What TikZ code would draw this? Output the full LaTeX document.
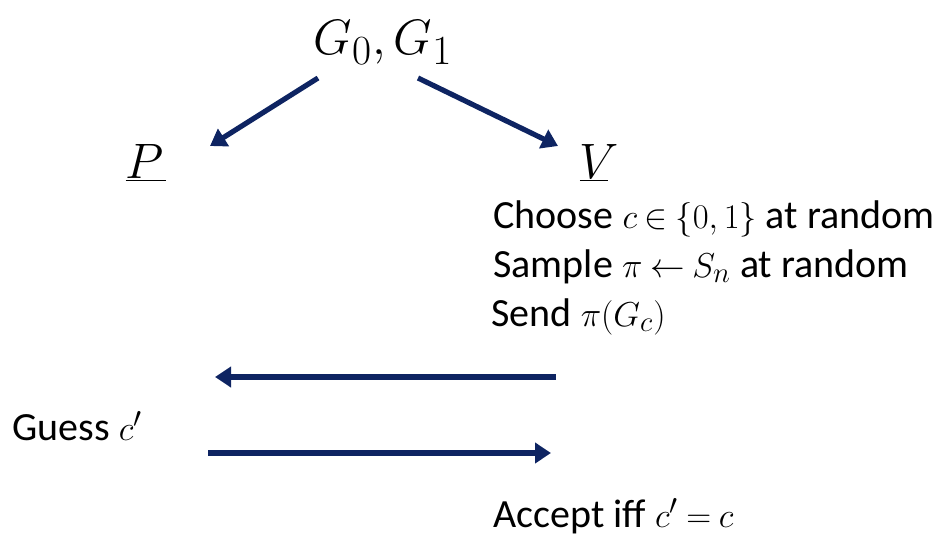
\documentclass[tikz,border=0pt]{standalone}
\usepackage{fontspec}
\setmainfont{Carlito}
\usetikzlibrary{arrows.meta}
\definecolor{navy}{RGB}{14,36,98}
\DeclareMathSizes{20}{19}{13.5}{10}

\begin{document}
\begin{tikzpicture}[
    x=0.5pt, y=-0.5pt,
    big/.style={font=\fontsize{29}{34}\selectfont, inner sep=0pt, anchor=base},
    txt/.style={font=\fontsize{20}{24}\selectfont, inner sep=0pt, anchor=base west},
    msg/.style={draw=navy, line width=2.6pt, -{Triangle[length=8pt, width=10pt]}}
  ]
  \useasboundingbox (0,0) rectangle (935,534);
  \thickmuskip=4mu plus 2mu

% --- parties and common input ---
    \node[big] (G) at (383,55) {$G_0, G_1$};
    \node[big] (P) at (146,178) {$\underline{P\mskip1mu}$};
    \node[big] (V) at (594,178) {$\underline{V\mskip-4mu}$};

% --- verifier's first move ---
    \node[txt] (choose) at (493,228) {Choose $c \in \{0, 1\}$ at random};
    \node[txt] (sample) at (493,277) {Sample $\pi \leftarrow S_n$ at random};
    \node[txt] (send)   at (491,326) {Send $\pi(G_c)$};

% --- prover's answer and verdict ---
    \node[txt] (guess)  at (12,440)  {Guess $c^\prime$};
    \node[txt] (accept) at (493,527) {Accept iff $c^\prime = c$};

% --- arrow ends ---
    \coordinate (GL) at (318,78);
    \coordinate (GR) at (418,78);
    \coordinate (PT) at (210,146);
    \coordinate (VT) at (558,146);
    \coordinate (toPfrom) at (556,377);
    \coordinate (toPend)  at (215,377);
    \coordinate (toVfrom) at (208,453);
    \coordinate (toVend)  at (551,453);

    \draw[msg] (GL) -- (PT);
    \draw[msg] (GR) -- (VT);
    \draw[msg] (toPfrom) -- (toPend);
    \draw[msg] (toVfrom) -- (toVend);

  \end{tikzpicture}
\end{document}
